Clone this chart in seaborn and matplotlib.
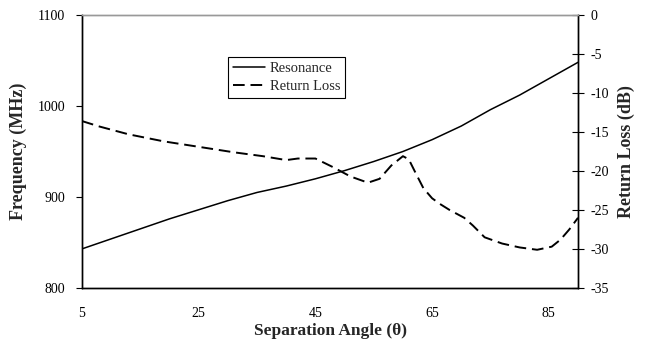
import matplotlib
matplotlib.use("Agg")
import matplotlib.pyplot as plt
import seaborn as sns
import pandas as pd
from matplotlib.lines import Line2D

# Data
res_angle = [5, 10, 15, 20, 25, 30, 35, 40, 45, 50, 55, 60, 65, 70, 75, 80, 85, 90]
resonance = [843, 854, 865, 876, 886, 896, 905, 912, 920, 929, 939, 950, 963, 978, 996, 1012, 1030, 1048]

rl_angle = [5, 8, 13, 19, 25, 31, 36, 40, 42, 45, 48, 51, 54, 56, 58, 60, 61, 62, 63.5,
            65, 66.5, 68, 70.5, 72, 74, 77, 80, 83, 85.5, 87, 88.5, 90]
return_loss = [-13.6, -14.3, -15.3, -16.2, -16.9, -17.6, -18.1, -18.6, -18.4, -18.4, -19.5,
               -20.7, -21.5, -21.0, -19.3, -18.1, -18.5, -20.0, -22.2, -23.5, -24.3, -25.0,
               -26.0, -27.0, -28.5, -29.3, -29.8, -30.1, -29.7, -28.8, -27.5, -26.0]

x_ticks = [5, 25, 45, 65, 85]
left_ticks = [800, 900, 1000, 1100]
right_ticks = [0, -5, -10, -15, -20, -25, -30, -35]

sns.set_style("white")
plt.rcParams['font.family'] = ['Liberation Serif', 'DejaVu Serif']
plt.rcParams['axes.unicode_minus'] = False

fig = plt.figure(figsize=(6.47, 3.40), dpi=100)
ax = fig.add_axes([82/647, 52/340, (578-82)/647, (288-15)/340])
ax2 = ax.twinx()

df_r = pd.DataFrame({"angle": res_angle, "freq": resonance})
df_l = pd.DataFrame({"angle": rl_angle, "rl": return_loss})

sns.lineplot(data=df_r, x="angle", y="freq", ax=ax, color="black", linewidth=1.1)
sns.lineplot(data=df_l, x="angle", y="rl", ax=ax2, color="black", linewidth=1.4,
             dashes=False)
ax2.lines[0].set_dashes([6, 3])

ax.set_xlim(5, 90)
ax.set_ylim(800, 1100)
ax2.set_ylim(-35, 0)
ax.set_xticks(x_ticks)
ax.set_yticks(left_ticks)
ax2.set_yticks(right_ticks)

for a in (ax, ax2):
    for s in a.spines.values():
        s.set_color("black")
        s.set_linewidth(1.0)
    a.spines['top'].set_color("#999999")

ax.tick_params(axis='x', direction='out', length=4, width=0.8, labelsize=10, pad=10, colors='black')
ax.tick_params(axis='y', direction='out', length=4, width=0.8, labelsize=10, pad=8, colors='black', left=True)
ax2.tick_params(axis='y', direction='inout', length=8, width=0.8, labelsize=10, pad=5, colors='black', right=True)

ax.set_xlabel("Separation Angle (θ)", fontsize=12.5, fontweight='bold', labelpad=2)
ax.set_ylabel("Frequency (MHz)", fontsize=13, fontweight='bold', labelpad=8)
ax2.set_ylabel("Return Loss (dB)", fontsize=13, fontweight='bold', labelpad=6)

handles = [Line2D([], [], color='black', linewidth=1.1),
           Line2D([], [], color='black', linewidth=1.4, dashes=[6, 3])]
leg = ax.legend(handles, ["Resonance", "Return Loss"], loc='upper left',
                bbox_to_anchor=((228-82)/496, (288-57)/273), fontsize=10.5,
                frameon=True, fancybox=False, edgecolor='black', framealpha=1,
                handlelength=2.2, handletextpad=0.3, borderpad=0.35, labelspacing=0.3,
                borderaxespad=0)
leg.get_frame().set_linewidth(0.8)

fig.savefig("out.png", dpi=100)
